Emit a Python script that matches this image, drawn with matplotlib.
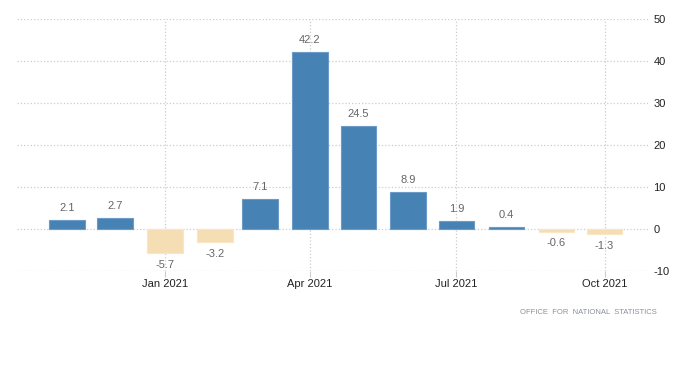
import matplotlib
matplotlib.use('Agg')
import matplotlib.pyplot as plt
import pandas as pd

months = pd.date_range('2020-11-01', '2021-10-01', freq='MS')
values = [2.1, 2.7, -5.7, -3.2, 7.1, 42.2, 24.5, 8.9, 1.9, 0.4, -0.6, -1.3]
tick_dates = pd.to_datetime(['2021-01-01', '2021-04-01', '2021-07-01', '2021-10-01'])
tick_labels = ['Jan 2021', 'Apr 2021', 'Jul 2021', 'Oct 2021']
y_ticks = [-10, 0, 10, 20, 30, 40, 50]

plt.rcParams['font.family'] = ['Liberation Sans', 'DejaVu Sans']
plt.rcParams['axes.unicode_minus'] = False

fig = plt.figure(figsize=(7, 3.67), dpi=100)
ax = fig.add_axes([17 / 700, 1 - 271 / 367, (648 - 17) / 700, (271 - 19) / 367])

colors = ['#4682b4' if v >= 0 else '#f5deb3' for v in values]
edges = ['#6b9bc6' if v >= 0 else '#f8e6c6' for v in values]
ax.bar(months, values, width=22, color=colors, edgecolor=edges, linewidth=0.8, zorder=3)

for d, v in zip(months, values):
    if v >= 0:
        ax.annotate(f'{v:.1f}', (d, v), xytext=(0, 5), textcoords='offset points',
                    ha='center', va='bottom', fontsize=8, color='#666666')
    else:
        ax.annotate(f'{v:.1f}', (d, v), xytext=(0, -5), textcoords='offset points',
                    ha='center', va='top', fontsize=8, color='#666666')

ax.set_xlim(pd.Timestamp('2020-10-01'), pd.Timestamp('2021-10-28'))
ax.set_ylim(-10, 50)
ax.set_yticks(y_ticks)
ax.set_xticks(tick_dates)
ax.set_xticklabels(tick_labels)
ax.yaxis.tick_right()

ax.grid(True, linestyle=':', color='#cccccc', linewidth=0.9, zorder=0)
for s in ax.spines.values():
    s.set_visible(False)
ax.tick_params(axis='y', length=0, pad=4, labelsize=8, labelcolor='#222222')
ax.tick_params(axis='x', length=4, color='#cccccc', pad=2, labelsize=8, labelcolor='#222222')

fig.text(657 / 700, 1 - 312 / 367, 'OFFICE  FOR  NATIONAL  STATISTICS',
         ha='right', va='center', fontsize=5.5, color='#8a8f99')

fig.savefig('out.png', dpi=100)
